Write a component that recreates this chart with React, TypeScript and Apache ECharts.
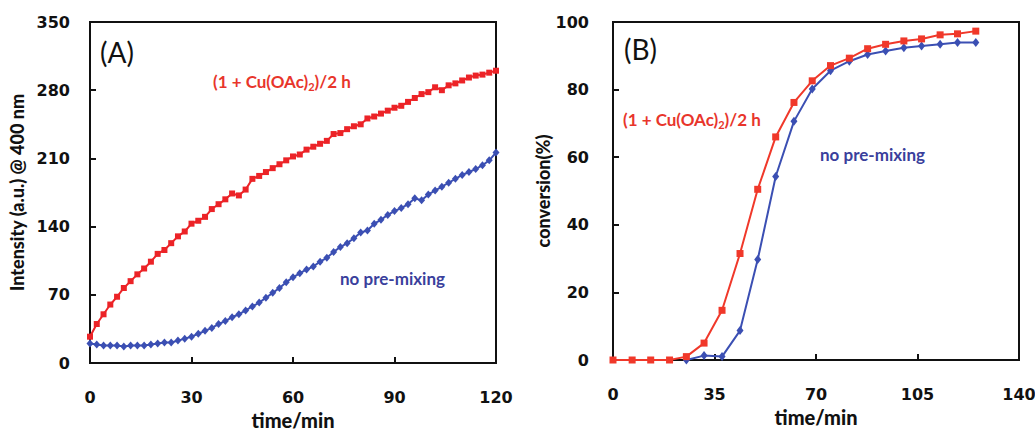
import React, { useEffect, useRef } from "react";
import * as echarts from "echarts";

// Panel A: absorbance intensity at 400 nm vs. time
const timeA = [
  0, 2, 4, 6, 8, 10, 12, 14, 16, 18, 20, 22, 24, 26, 28, 30, 32, 34, 36, 38, 40,
  42, 44, 46, 48, 50, 52, 54, 56, 58, 60, 62, 64, 66, 68, 70, 72, 74, 76, 78, 80,
  82, 84, 86, 88, 90, 92, 94, 96, 98, 100, 102, 104, 106, 108, 110, 112, 114, 116, 118, 120,
];
const premixA = [
  27, 40, 50, 60, 68, 77, 84, 91, 97, 104, 112, 116, 123, 130, 135, 143, 146, 150, 158, 163, 168,
  174, 172, 178, 189, 192, 196, 200, 204, 208, 212, 214, 219, 222, 225, 228, 235, 236, 240, 243, 245,
  251, 253, 256, 259, 262, 264, 268, 272, 276, 278, 283, 280, 285, 287, 290, 293, 295, 296, 298, 300,
];
const noPremixA = [
  20, 19, 18, 18, 18, 17, 18, 18, 18, 19, 20, 21, 21, 23, 25, 27, 30, 33, 36, 40, 43,
  47, 50, 54, 58, 62, 67, 72, 77, 83, 88, 92, 96, 99, 104, 108, 114, 119, 123, 128, 134,
  136, 143, 147, 152, 156, 159, 163, 169, 167, 173, 177, 181, 185, 189, 193, 196, 199, 203, 208, 216,
];

// Panel B: conversion (%) vs. time
const timeB = [
  0, 6.6, 13, 19.5, 25.3, 31.4, 37.6, 43.8, 49.9, 56.1, 62.4, 68.7, 75, 81.5, 87.8, 94,
  100.3, 106.4, 112.8, 118.8, 125.1,
];
const premixB = [
  0, 0, 0, 0, 1, 5, 14.7, 31.5, 50.5, 66, 76.2, 82.6, 87.1, 89.3, 92.1, 93.4, 94.4, 95,
  96.2, 96.5, 97.3,
];
const timeBNoPremix = [
  25.3, 31.4, 37.6, 43.8, 49.9, 56.1, 62.4, 68.7, 75, 81.5, 87.8, 94, 100.3, 106.4, 112.8,
  118.8, 125.1,
];
const noPremixB = [
  0, 1.3, 1.0, 8.7, 29.7, 54.3, 70.6, 80.2, 85.6, 88.4, 90.4, 91.4, 92.4, 92.9, 93.4, 93.9, 93.9,
];

const RED = "#ec2327";
const RED_B = "#f0382a";
const BLUE = "#3b4fb3";
const RED_TEXT = "#e8352b";
const BLUE_TEXT = "#3a3f9c";
const TICK_FONT = "DejaVu Sans";
const LABEL_FONT = "Lato";

const pairs = (xs: number[], ys: number[]) => xs.map((x, i) => [x, ys[i]]);

function xAxisFor(gridIndex: number, max: number, interval: number) {
  return {
    type: "value",
    gridIndex,
    min: 0,
    max,
    interval,
    name: "time/min",
    nameLocation: "middle",
    nameGap: 46,
    nameTextStyle: { fontFamily: LABEL_FONT, fontWeight: 900, fontSize: 20, lineHeight: 20, color: "#111" },
    axisLine: { show: true, lineStyle: { color: "#111", width: 2 } },
    axisTick: { show: true, inside: true, length: 6, lineStyle: { color: "#111", width: 2 } },
    axisLabel: {
      margin: 26,
      fontFamily: TICK_FONT,
      fontWeight: "bold",
      fontSize: 16,
      color: "#111",
    },
    splitLine: { show: false },
  };
}

function yAxisFor(gridIndex: number, max: number, interval: number, name: string, nameGap: number, labelMargin: number) {
  return {
    type: "value",
    gridIndex,
    min: 0,
    max,
    interval,
    name,
    nameLocation: "middle",
    nameGap,
    nameTextStyle: { fontFamily: LABEL_FONT, fontWeight: 900, fontSize: 18, color: "#111" },
    axisLine: { show: true, lineStyle: { color: "#111", width: 2 } },
    axisTick: { show: true, inside: true, length: 6, lineStyle: { color: "#111", width: 2 } },
    axisLabel: {
      margin: labelMargin,
      fontFamily: TICK_FONT,
      fontWeight: "bold",
      fontSize: 16,
      color: "#111",
    },
    splitLine: { show: false },
  };
}

function labelText(left: number, top: number, text: string, color: string) {
  return {
    type: "text",
    left,
    top,
    style: {
      text,
      fill: color,
      font: `bold 17px ${LABEL_FONT}`,
    },
  };
}

function formulaText(left: number, top: number) {
  return {
    type: "text",
    left,
    top,
    style: {
      text: "{a|(1 + Cu(OAc)}{s|2}{a|)/2 h}",
      rich: {
        a: { fill: RED_TEXT, fontFamily: LABEL_FONT, fontWeight: "bold", fontSize: 17 },
        s: { fill: RED_TEXT, fontFamily: LABEL_FONT, fontWeight: "bold", fontSize: 11, padding: [9, 0, 0, 0] },
      },
    },
  };
}

function panelTag(left: number, top: number, text: string) {
  return {
    type: "text",
    left,
    top,
    style: { text, fill: "#111", font: `28px ${LABEL_FONT}` },
  };
}

export default function App() {
  const ref = useRef<HTMLDivElement>(null);

  useEffect(() => {
    if (!ref.current) return;
    const chart = echarts.init(ref.current, null, { renderer: "svg" });
    chart.setOption({
      animation: false,
      backgroundColor: "#ffffff",
      grid: [
        {
          left: 90, top: 22, width: 406, height: 341,
          outerBoundsMode: "none",
          show: true, borderColor: "#111", borderWidth: 2,
        },
        {
          left: 613, top: 22, width: 406, height: 338,
          outerBoundsMode: "none",
          show: true, borderColor: "#111", borderWidth: 2,
        },
      ],
      xAxis: [xAxisFor(0, 120, 30), xAxisFor(1, 140, 35)],
      yAxis: [
        yAxisFor(0, 350, 70, "Intensity (a.u.) @ 400 nm", 64, 20),
        yAxisFor(1, 100, 20, "conversion(%)", 58, 24),
      ],
      series: [
        {
          type: "line",
          xAxisIndex: 0,
          yAxisIndex: 0,
          data: pairs(timeA, noPremixA),
          symbol: "diamond",
          symbolSize: [7, 8],
          lineStyle: { color: BLUE, width: 2 },
          itemStyle: { color: BLUE },
          z: 2,
        },
        {
          type: "line",
          xAxisIndex: 0,
          yAxisIndex: 0,
          data: pairs(timeA, premixA),
          symbol: "rect",
          symbolSize: 6,
          lineStyle: { color: RED, width: 2 },
          itemStyle: { color: RED },
          z: 3,
        },
        {
          type: "line",
          xAxisIndex: 1,
          yAxisIndex: 1,
          data: pairs(timeBNoPremix, noPremixB),
          symbol: "diamond",
          symbolSize: [7, 9],
          lineStyle: { color: BLUE, width: 2 },
          itemStyle: { color: BLUE },
          z: 2,
        },
        {
          type: "line",
          xAxisIndex: 1,
          yAxisIndex: 1,
          data: pairs(timeB, premixB),
          symbol: "rect",
          symbolSize: 7,
          lineStyle: { color: RED_B, width: 2 },
          itemStyle: { color: RED_B },
          z: 3,
        },
      ],
      graphic: [
        panelTag(100, 38, "(A)"),
        panelTag(624, 35, "(B)"),
        formulaText(213, 73),
        labelText(340, 270, "no pre-mixing", BLUE_TEXT),
        formulaText(623, 111),
        labelText(820, 146, "no pre-mixing", BLUE_TEXT),
      ],
    });
    return () => chart.dispose();
  }, []);

  return (
    <div
      ref={ref}
      style={{ position: "fixed", left: 0, top: 0, width: 1035, height: 433, background: "#fff" }}
    />
  );
}
